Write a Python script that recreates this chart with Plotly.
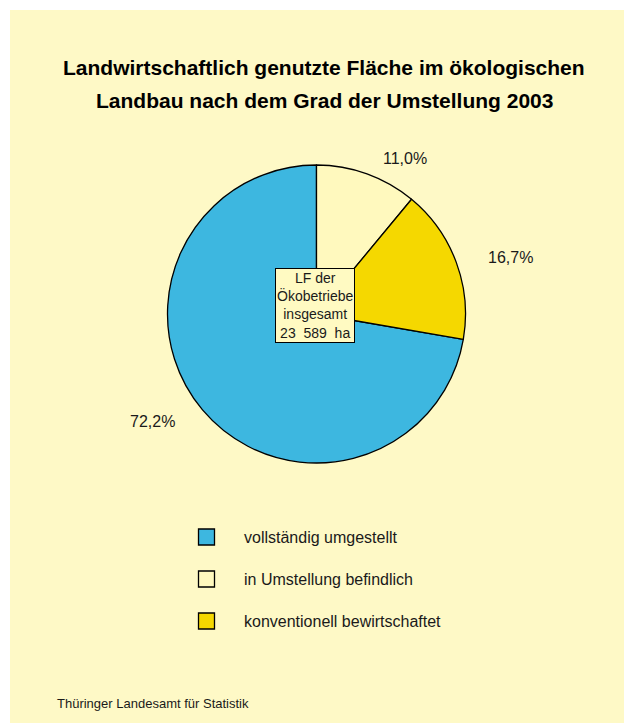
import plotly.graph_objects as go

# ---- data ----
categories = ["vollständig umgestellt", "in Umstellung befindlich", "konventionell bewirtschaftet"]
shares = [72.2, 11.0, 16.7]
colors = ["#3DB7E0", "#FFF9BE", "#F5D800"]
label_texts = ["72,2%", "11,0%", "16,7%"]
title_lines = ["Landwirtschaftlich genutzte Fläche im ökologischen",
               "Landbau nach dem Grad der Umstellung 2003"]
center_lines = ["LF der", "Ökobetriebe", "insgesamt", "23\u00a0\u00a0589\u00a0\u00a0ha"]
source_text = "Thüringer Landesamt für Statistik"

W, H = 624, 725
BG = "#FEF9C6"

def px(x):
    return x / W

def py(y):
    return 1 - y / H

# pie centre and radius in page pixels
cx, cy, r = 316.5, 314, 149

# first slice (blue) starts where the other two end, clockwise from 12 o'clock
rot = 360 * (shares[1] + shares[2]) / sum(shares)

fig = go.Figure()
fig.add_trace(go.Pie(
    labels=categories,
    values=shares,
    sort=False,
    direction="clockwise",
    rotation=rot,
    marker=dict(colors=colors, line=dict(color="#000000", width=1.3)),
    textinfo="none",
    hoverinfo="label+percent",
    showlegend=False,
    domain=dict(x=[px(cx - r), px(cx + r)], y=[py(cy + r), py(cy - r)]),
))

shapes = [dict(type="rect", xref="paper", yref="paper",
               x0=px(10), x1=1.0, y0=py(723), y1=py(10),
               fillcolor=BG, line=dict(width=0), layer="below")]

annotations = []
# title (two lines, placed separately for the wide line spacing)
for line, ty in zip(title_lines, [68, 101]):
    annotations.append(dict(text="<b>" + line + "</b>",
                            xref="paper", yref="paper", x=px(324), y=py(ty),
                            xanchor="center", yanchor="middle", showarrow=False,
                            font=dict(family="Liberation Sans, Arial", size=21, color="#000000")))

# percentage labels (hand placed as in the original)
label_pos = [(152, 421), (405, 158), (510, 257)]
for t, (lx, ly) in zip(label_texts, label_pos):
    annotations.append(dict(text=t, xref="paper", yref="paper", x=px(lx), y=py(ly),
                            xanchor="center", yanchor="middle", showarrow=False,
                            font=dict(family="Liberation Sans, Arial", size=16, color="#1a1a1a")))

# centre box
annotations.append(dict(text="<br>".join(center_lines), xref="paper", yref="paper",
                        x=px(314.5), y=py(305.5), xanchor="center", yanchor="middle",
                        showarrow=False, align="center",
                        bgcolor="#FFFAC2", bordercolor="#000000", borderwidth=1, borderpad=1,
                        font=dict(family="Liberation Sans Narrow, Arial Narrow, Liberation Sans",
                                  size=14, color="#1a1a1a")))

# legend (boxes + texts)
legend_y = [537, 579, 621]
for cat, col, ly in zip(categories, colors, legend_y):
    shapes.append(dict(type="rect", xref="paper", yref="paper",
                       x0=px(198.5), x1=px(214.5), y0=py(ly + 8), y1=py(ly - 8),
                       fillcolor=col, line=dict(color="#000000", width=1.3)))
    annotations.append(dict(text=cat, xref="paper", yref="paper", x=px(242), y=py(ly),
                            xanchor="left", yanchor="middle", showarrow=False,
                            font=dict(family="Liberation Sans, Arial", size=16, color="#1a1a1a")))

# source
annotations.append(dict(text=source_text, xref="paper", yref="paper", x=px(55), y=py(703),
                        xanchor="left", yanchor="middle", showarrow=False,
                        font=dict(family="Liberation Sans, Arial", size=13, color="#1a1a1a")))

fig.update_layout(width=W, height=H, margin=dict(l=0, r=0, t=0, b=0),
                  paper_bgcolor="#FFFFFF", plot_bgcolor="#FFFFFF",
                  shapes=shapes, annotations=annotations)

# remove the default body margin so the figure fills the window exactly
fig.write_html("out.html",
               config={"displayModeBar": False},
               post_script="document.body.style.margin='0';document.body.style.overflow='hidden';")
